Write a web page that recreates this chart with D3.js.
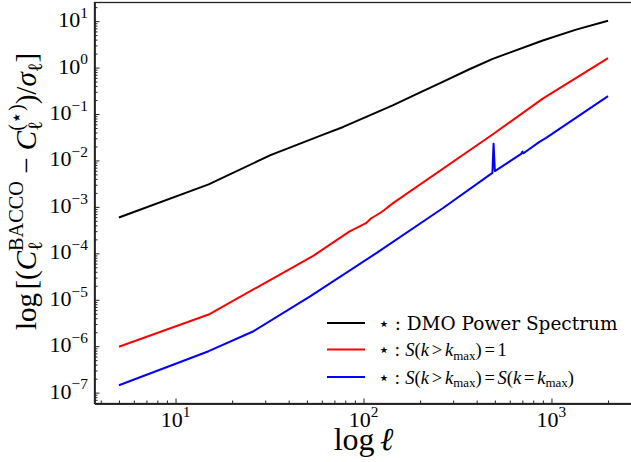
<!DOCTYPE html>
<html>
<head>
<meta charset="utf-8">
<script src="https://cdn.jsdelivr.net/npm/d3@7"></script>
<style>
  body { margin: 0; background: #fff; }
  svg { display: block; }
</style>
</head>
<body>
<div id="chart"></div>
<script>
// dati (ell, valore)
const ellBlack = [5, 15, 32, 63, 78, 143, 199, 264, 366, 487, 899, 1352, 2000];
const valBlack = [5.9e-4, 3.05e-3, 1.3e-2, 3.79e-2, 5.26e-2, 0.154, 0.288, 0.49, 0.92, 1.54, 3.82, 6.57, 10.2];

const ellRed = [5, 15, 34, 54, 84, 103, 110, 122, 129, 143, 488, 899, 2000];
const valRed = [9.7e-7, 4.8e-6, 3.08e-5, 8.8e-5, 2.94e-4, 4.45e-4, 5.69e-4, 7.29e-4, 8.57e-4, 1.19e-3, 3.66e-2, 0.214, 1.59];

const ellBlue = [5, 15, 26, 52, 117, 264, 485, 492, 500, 690, 700, 710, 863, 937, 2000];
const valBlue = [1.44e-7, 7.8e-7, 2.1e-6, 1.18e-5, 1.01e-4, 9.33e-4, 5.4e-3, 2.3e-2, 5.9e-3, 1.38e-2, 1.55e-2, 1.43e-2, 2.51e-2, 3.05e-2, 0.243];

const seriesColors = ["#000000", "#ff0000", "#0000ff"];
const xTickExps = [1, 2, 3];
const yTickExps = [-7, -6, -5, -4, -3, -2, -1, 0, 1];

const W = 631, H = 462;
const margin = { left: 94.5, top: 2.5 };
const plotW = 538, plotH = 401;
const MATH = "'Liberation Serif', 'Times New Roman', serif";
const TEXT = "'DejaVu Serif', serif";

const series = [
  { ell: ellBlack, val: valBlack, color: seriesColors[0] },
  { ell: ellRed, val: valRed, color: seriesColors[1] },
  { ell: ellBlue, val: valBlue, color: seriesColors[2] }
];

// margine del 5% in scala log, come matplotlib
function padLog(vals) {
  const lo = Math.log10(d3.min(vals)), hi = Math.log10(d3.max(vals));
  const m = (hi - lo) * 0.05;
  return [Math.pow(10, lo - m), Math.pow(10, hi + m)];
}

const x = d3.scaleLog().domain(padLog(ellBlack.concat(ellRed, ellBlue))).range([0, plotW]);
const y = d3.scaleLog().domain(padLog(valBlack.concat(valRed, valBlue))).range([plotH, 0]);

const svg = d3.select("#chart").append("svg").attr("width", W).attr("height", H);
const g = svg.append("g").attr("transform", `translate(${margin.left},${margin.top})`);

// testo "matematico" con apici e pedici
function rich(parent, pieces, size) {
  const grp = parent.append("g");
  let cx = 0, prevStart = 0, prevEnd = 0;
  pieces.forEach(p => {
    const fs = size * (p.sc || 1);
    const x0 = p.stack ? prevStart : cx + (p.pre || 0) * size;
    const t = grp.append("text")
      .attr("x", x0)
      .attr("y", -(p.sh || 0) * size)
      .attr("font-size", fs)
      .attr("font-family", p.f || MATH)
      .attr("font-style", p.it ? "italic" : "normal")
      .attr("fill", "#000")
      .text(p.t);
    const w = t.node().getComputedTextLength();
    if (p.stack) {
      cx = Math.max(prevEnd, x0 + w);
    } else {
      prevStart = x0;
      prevEnd = x0 + w;
      cx = x0 + w;
    }
    cx += (p.post || 0) * size;
  });
  return { g: grp, w: cx };
}

function minorTicks(scale) {
  const [a, b] = scale.domain();
  const out = [];
  for (let e = Math.floor(Math.log10(a)); e <= Math.ceil(Math.log10(b)); e++) {
    for (let k = 2; k <= 9; k++) {
      const v = k * Math.pow(10, e);
      if (v >= a && v <= b) out.push(v);
    }
  }
  return out;
}

// assi: tick verso l'interno
const xMajor = xTickExps.map(e => Math.pow(10, e));
const yMajor = yTickExps.map(e => Math.pow(10, e));

g.append("g").attr("transform", `translate(0,${plotH})`)
  .call(d3.axisBottom(x).tickValues(minorTicks(x)).tickSizeInner(-3).tickSizeOuter(0).tickFormat(""));
g.append("g").attr("transform", `translate(0,${plotH})`)
  .call(d3.axisBottom(x).tickValues(xMajor).tickSizeInner(-5).tickSizeOuter(0).tickFormat(""));
g.append("g")
  .call(d3.axisLeft(y).tickValues(minorTicks(y)).tickSizeInner(-3).tickSizeOuter(0).tickFormat(""));
g.append("g")
  .call(d3.axisLeft(y).tickValues(yMajor).tickSizeInner(-5).tickSizeOuter(0).tickFormat(""));

g.selectAll(".domain").attr("stroke", "#222").attr("stroke-width", 1.3);
g.selectAll(".tick line").attr("stroke", "#222").attr("stroke-width", 1);

g.append("rect")
  .attr("width", plotW).attr("height", plotH)
  .attr("fill", "none").attr("stroke", "#222").attr("stroke-width", 1.3);

// etichette dei tick
const tickSize = 22;
xTickExps.forEach(e => {
  const lab = rich(g, [{ t: "10" }, { t: String(e).replace("-", "\u2212"), sc: 0.7, sh: 0.42 }], tickSize);
  lab.g.attr("transform", `translate(${x(Math.pow(10, e)) - lab.w / 2},${plotH + 23})`);
});
yTickExps.forEach(e => {
  const lab = rich(g, [{ t: "10" }, { t: String(e).replace("-", "\u2212"), sc: 0.7, sh: 0.42 }], tickSize);
  lab.g.attr("transform", `translate(${-6.5 - lab.w},${y(Math.pow(10, e)) + 6})`);
});

// curve
const line = d3.line().x(d => x(d[0])).y(d => y(d[1]));
series.forEach(s => {
  g.append("path")
    .datum(s.ell.map((l, i) => [l, s.val[i]]))
    .attr("d", line)
    .attr("fill", "none")
    .attr("stroke", s.color)
    .attr("stroke-width", 2)
    .attr("stroke-linejoin", "round");
});

// legenda
const legendRows = [
  [{ t: "\u22c6", post: 0.25 }, { t: ": DMO Power Spectrum", f: TEXT }],
  [{ t: "\u22c6", post: 0.25 }, { t: ":", post: 0.3 }, { t: "S", it: true }, { t: "(" }, { t: "k", it: true },
   { t: ">", pre: 0.15, post: 0.15 }, { t: "k", it: true }, { t: "max", sc: 0.7, sh: -0.2 }, { t: ")" },
   { t: "=", pre: 0.15, post: 0.15 }, { t: "1" }],
  [{ t: "\u22c6", post: 0.25 }, { t: ":", post: 0.3 }, { t: "S", it: true }, { t: "(" }, { t: "k", it: true },
   { t: ">", pre: 0.15, post: 0.15 }, { t: "k", it: true }, { t: "max", sc: 0.7, sh: -0.2 }, { t: ")" },
   { t: "=", pre: 0.15, post: 0.15 }, { t: "S", it: true }, { t: "(" }, { t: "k", it: true },
   { t: "=", pre: 0.15, post: 0.15 }, { t: "k", it: true }, { t: "max", sc: 0.7, sh: -0.2 }, { t: ")" }]
];
const legY = [323, 349.5, 377];
legendRows.forEach((row, i) => {
  svg.append("line")
    .attr("x1", 327).attr("x2", 365).attr("y1", legY[i]).attr("y2", legY[i])
    .attr("stroke", seriesColors[i]).attr("stroke-width", 2);
  const lab = rich(svg, row, 18.5);
  lab.g.attr("transform", `translate(378,${legY[i] + 6.5})`);
});

// titoli degli assi
const xl = rich(svg, [{ t: "log", post: 0.17 }, { t: "\u2113", it: true }], 32);
xl.g.attr("transform", `translate(${margin.left + x(Math.sqrt(x.domain()[0] * x.domain()[1])) - xl.w / 2},450)`);

const yl = rich(svg, [
  { t: "log", post: 0.12 }, { t: "[(" }, { t: "C", it: true },
  { t: "BACCO", sc: 0.7, sh: 0.45 }, { t: "\u2113", sc: 0.7, sh: -0.22, stack: true },
  { t: "\u2212", pre: 0.25, post: 0.25 }, { t: "C", it: true },
  { t: "(\u22c6)", sc: 0.7, sh: 0.45 }, { t: "\u2113", sc: 0.7, sh: -0.22, stack: true },
  { t: ")/" }, { t: "\u03c3", it: true }, { t: "\u2113", sc: 0.7, sh: -0.22 }, { t: "]" }
], 29);
yl.g.attr("transform", `translate(36,191.5) rotate(-90) translate(${-yl.w / 2},0)`);
</script>
</body>
</html>
